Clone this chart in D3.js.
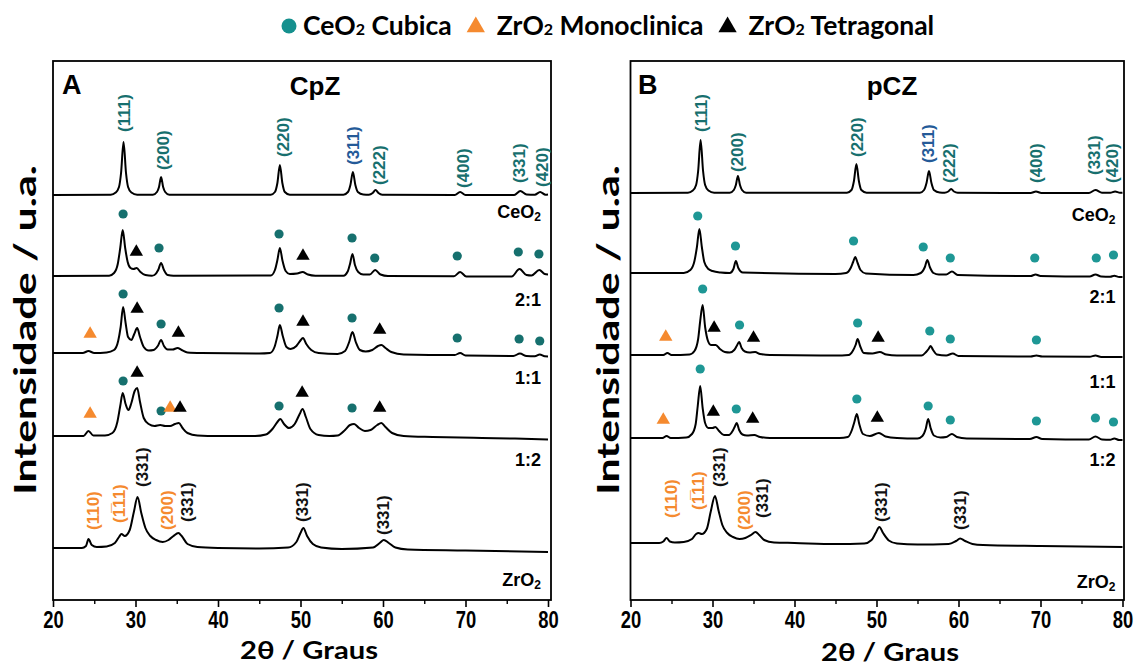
<!DOCTYPE html>
<html>
<head>
<meta charset="utf-8">
<script src="https://cdn.jsdelivr.net/npm/d3@7"></script>
<style>
  body { margin: 0; background: #fff; }
  svg { display: block; }
</style>
</head>
<body>
<svg id="chart" width="1137" height="667"></svg>
<script>
// ---------- data: XRD patterns, 2θ (degrees) vs. intensity (a.u.) ----------
const majorTicks = [20, 30, 40, 50, 60, 70, 80];
const minorTicks = [25, 35, 45, 55, 65, 75];
const sampleNames = ["CeO2", "2:1", "1:1", "1:2", "ZrO2"];

// vertical stacking offset of each pattern (a.u.)
const offsetsCpZ = [405, 324, 247, 164, 52];
const offsetsPCZ = [407, 327, 245, 162, 57];
// height of each sample name (a.u.)
const nameLevelsCpZ = [388, 300, 222, 140, 20];
const nameLevelsPCZ = [385, 303, 218, 140, 18];

// ---- CpZ series ----
const cpzCeO2 = [[20,0],[27.0,0.3],[27.6,2.5],[28.0,8],[28.25,22],[28.55,53],[28.85,22],[29.1,8],[29.5,2.5],[30.2,0.3],
  [32.1,0.2],[32.6,3],[32.85,8],[33.1,18],[33.35,8],[33.6,3],[34.1,0.2],
  [46.4,0.3],[46.9,3],[47.2,12],[47.5,30],[47.8,12],[48.1,3],[48.7,0.3],
  [55.2,0.3],[55.75,3],[56.05,10],[56.35,23],[56.65,10],[56.95,3],[57.6,0.5],
  [58.3,0.3],[58.75,2],[59.1,5],[59.45,2],[59.9,0.3],[68.7,0],[69.35,3],[70,0],
  [75.9,0],[76.65,4],[77.4,0.5],[78.4,0.3],[79.05,3],[79.7,0.3],[80,0.5]];
const cpz21 = [[20,0],[26.8,0.3],[27.4,3],[27.85,12],[28.15,28],[28.45,46],[28.75,28],[29.05,14],[29.4,8],[29.75,7],[30.15,8],[30.6,4],[31.2,1],[32,0.3],
  [32.3,1],[32.75,6],[33.1,13],[33.45,6],[33.9,1],[34.6,0.3],
  [46.4,0.5],[46.9,6],[47.2,16],[47.5,28],[47.8,16],[48.2,5],[48.7,2],[49.6,2.5],[50.25,4],[50.9,1.5],[51.8,0.3],
  [55.2,0.3],[55.75,5],[56.0,12],[56.3,22],[56.6,11],[57.0,4],[57.6,1.5],[58.4,1.5],[59.05,6],[59.7,1.5],[60.6,0],
  [68.6,-0.3],[69.35,4],[70.1,-0.5],[75.6,-0.5],[76.55,7],[77.4,1],[78.0,0.5],[78.95,6],[79.6,2],[80,1.5]];
const cpz11 = [[20,0],[23.6,0],[24.3,2],[25,0],[26.5,0.5],[27.4,3],[27.9,12],[28.2,26],[28.5,46],[28.8,30],[29.1,16],[29.5,13],[29.85,19],[30.2,25],[30.55,16],[31.0,6],[31.6,2.5],[32.2,3],[32.7,7],[33.1,13],[33.45,7],[33.9,3.5],[34.5,3.5],[35.1,5],[35.6,3],[36.3,0.5],[38,0],
  [45,-0.5],[46.3,0],[46.85,6],[47.2,17],[47.5,28],[47.85,17],[48.3,6],[48.8,4],[49.5,7],[49.95,12],[50.3,15],[50.7,9],[51.3,3],[52.2,0],
  [54.5,-1],[55.4,2],[55.9,11],[56.3,21],[56.7,11],[57.2,3],[57.9,1.5],[58.7,3],[59.4,7],[59.8,8],[60.3,5],[61.0,1],[62.5,-1.5],
  [68.7,-2],[69.35,0],[70,-2.5],[75.8,-3],[76.6,-0.5],[77.4,-3],[78.4,-3.2],[79.0,-1.5],[79.6,-3.3],[80,-3.5]];
const cpz12 = [[20,0],[23.7,0],[24.3,5],[24.9,0.5],[26.3,0.5],[27.2,3],[27.8,14],[28.15,30],[28.45,43],[28.8,32],[29.15,26],[29.5,33],[29.9,45],[30.2,48],[30.55,34],[31.0,18],[31.6,12],[32.3,10],[33.0,11],[33.6,10],[34.2,10],[34.8,12],[35.25,13],[35.7,8],[36.3,3],[37.5,0.5],[40,0],
  [44.5,0],[45.8,1.5],[46.6,7],[47.2,14],[47.55,17],[48.0,12],[48.6,8],[49.3,12],[49.9,22],[50.25,27],[50.65,19],[51.2,7],[52.2,1],[53.5,0],
  [54.5,0.5],[55.4,6],[56.0,11],[56.5,12],[57.1,8],[57.8,5],[58.5,6],[59.3,11],[59.8,13],[60.3,9],[61.1,3],[62.5,0],[66,-1],[72,-2],[76,-2.5],[80,-3.5]];
const cpzZrO2 = [[20,0],[23.5,0],[24.0,2],[24.3,9],[24.7,3],[25.3,1],[26.5,1.5],[27.5,5],[28.0,11],[28.3,14],[28.7,12],[29.3,18],[29.8,36],[30.25,51],[30.7,35],[31.2,20],[31.8,12],[32.5,8],[33.3,6],[34.0,8],[34.6,12],[35.2,15],[35.6,12],[36.3,4],[37.5,1],[40,0],
  [45,-0.5],[48.5,0.5],[49.5,6],[50.0,15],[50.35,20],[50.8,12],[51.5,4],[52.5,0.5],[55,-1],[58.8,0.5],[59.6,5],[60.1,8],[60.7,5],[61.5,0.5],[63,-1.5],[70,-2.5],[80,-4]];

// ---- pCZ series ----
const pczCeO2 = [[20,0],[27.0,0.3],[27.6,2.5],[28.0,8],[28.25,22],[28.55,53],[28.85,22],[29.1,8],[29.5,2.5],[30.2,0.3],
  [32.1,0.2],[32.6,3],[32.85,8],[33.1,17],[33.35,8],[33.6,3],[34.1,0.2],
  [46.4,0.3],[46.95,3],[47.25,12],[47.55,29],[47.85,12],[48.15,3],[48.8,0.3],
  [55.3,0.3],[55.8,3],[56.1,10],[56.4,22],[56.7,10],[57.0,3],[57.7,0.5],
  [58.3,0.3],[58.75,1.5],[59.1,4],[59.45,1.5],[59.9,0.3],[68.8,0],[69.45,1.5],[70.1,0],
  [75.9,0],[76.7,3],[77.5,0.3],[78.5,0.2],[79.1,1.5],[79.7,0.2],[80,0.3]];
const pcz21 = [[20,0],[26.5,0],[27.3,3],[27.8,12],[28.1,26],[28.4,44],[28.7,26],[29.0,11],[29.5,4],[30.0,2],[31,0.5],
  [32.1,0],[32.55,4],[32.85,12],[33.15,5],[33.7,0.5],
  [45,-1],[46.3,0],[46.85,5],[47.15,11],[47.4,16],[47.7,10],[48.05,3],[48.7,-0.5],
  [54.5,-2],[55.4,0],[55.9,6],[56.2,13],[56.5,6],[56.95,0],[57.6,-1.5],
  [58.5,-1.5],[59.2,1.5],[59.9,-2],[68.8,-3],[69.4,-1.5],[70,-3],
  [76,-3.5],[76.7,-1.5],[77.4,-3.5],[78.5,-3.8],[79.0,-2.8],[79.6,-4],[80,-4]];
const pcz11 = [[20,0],[24.0,0],[24.5,2],[25.0,0],[27.2,0.5],[27.8,4],[28.25,16],[28.5,34],[28.8,50],[29.1,28],[29.45,14],[29.8,10],[30.4,10],[30.9,6],[31.5,3],[32.1,2.5],[32.65,5],[32.95,9],[33.25,13],[33.55,7],[33.95,3.5],[34.5,2.5],[35.2,3],[35.8,1],[37,0],
  [45,-0.5],[46.6,0],[47.1,4],[47.45,10],[47.7,16],[48.0,9],[48.45,2],[49.5,1.5],[50.4,3],[51.2,0.5],[52.5,-0.5],
  [55.5,-0.5],[56.05,3],[56.35,6],[56.6,9],[56.9,5],[57.35,0.5],[58.5,-0.5],[59.3,1.5],[60,-1],
  [68.8,-1.5],[69.5,-0.5],[70.2,-1.5],[76,-1.8],[76.7,-0.5],[77.4,-2],[80,-2]];
const pcz12 = [[20,0],[23.9,0],[24.4,2],[24.9,0],[26.8,0.5],[27.5,4],[27.95,14],[28.2,32],[28.5,52],[28.8,30],[29.1,15],[29.5,10],[30.0,10],[30.35,11],[30.8,7],[31.4,3],[32.0,3],[32.45,7],[32.7,11],[32.95,15],[33.25,8],[33.65,3.5],[34.2,2.5],[35.1,3],[35.8,1],[37,0],
  [45.5,0],[46.5,1],[47.0,8],[47.3,16],[47.6,24],[47.9,14],[48.35,4],[49.2,2],[50.3,5],[51.1,1.5],[52.5,0],
  [55,-0.5],[55.6,2],[56.0,9],[56.3,19],[56.6,10],[57.0,2.5],[57.8,0.5],[58.5,1],[59.2,4],[59.8,1],[61,-0.5],
  [68.7,-1],[69.5,1],[70.2,-1],[75.9,-1.5],[76.7,1.5],[77.5,-1.5],[78.5,-1.8],[79.0,-0.5],[79.6,-2],[80,-2]];
const pczZrO2 = [[20,0],[23.5,0],[24.0,1.5],[24.4,5],[24.8,1.5],[25.4,0.5],[26.5,1],[27.5,4],[28.0,9],[28.3,10],[28.7,9],[29.3,14],[29.8,32],[30.3,47],[30.75,32],[31.2,18],[31.8,10],[32.5,6],[33.3,4],[34.0,5],[34.7,8],[35.25,11],[35.7,8],[36.3,3],[37.5,0.5],[40,0],
  [45,-1],[48.5,-0.5],[49.4,3],[49.9,10],[50.35,16],[50.8,10],[51.5,2.5],[52.5,-0.5],[55,-1.5],[58.8,-1],[59.7,2],[60.2,4.5],[60.8,2],[61.7,-1],[63,-2],[70,-3],[80,-4]];

// phase markers: [phase, 2θ, level a.u.]  c = CeO2 cubic, m = ZrO2 monoclinic, t = ZrO2 tetragonal
const markersCpZ = [
  ['c',28.5,386],['t',30.1,349],['c',32.85,352],['c',47.4,366],['t',50.3,345],['c',56.25,362],['c',59.0,342],['c',69.0,344],['c',76.4,348],['c',78.9,346],
  ['m',24.5,267],['c',28.5,306],['t',30.2,292],['c',33.1,276],['t',35.2,268],['c',47.4,292],['t',50.3,279],['c',56.25,282],['t',59.6,271],['c',69.0,262],['c',76.5,261],['c',79.0,259],
  ['m',24.5,187],['c',28.5,219],['t',30.2,228],['c',33.1,189],['m',34.2,193],['t',35.4,193],['c',47.4,194],['t',50.2,208],['c',56.25,192],['t',59.6,193]];
const markersPCZ = [
  ['c',28.2,384],['c',32.8,354],['c',47.2,359],['c',55.7,353],['c',59.0,342],['c',69.3,342],['c',76.8,342],['c',78.9,345],
  ['m',24.3,264],['c',28.8,311],['t',30.2,273],['c',33.3,275],['t',35.0,263],['c',47.7,277],['t',50.2,263],['c',56.5,269],['c',59.0,261],['c',69.5,260],
  ['m',24.0,181],['c',28.5,231],['t',30.1,189],['c',32.9,191],['t',34.9,182],['c',47.6,201],['t',50.1,183],['c',56.3,194],['c',59.0,180],['c',69.5,179],['c',76.7,182],['c',78.9,178]];

// Miller index labels: [text, colour key, 2θ, lower end level a.u.]
const hklCpZ = [
  ['(111)','c',28.7,468],['(200)','c',33.45,430],['(220)','c',47.9,443],['(311)','b',56.4,435],['(222)','c',59.6,415],['(400)','c',69.7,412],['(331)','c',76.6,417],['(420)','c',79.3,413],
  ['(110)','m',24.85,70],['(1\u030511)','m',28.0,77],['(331)','t',30.8,113],['(200)','m',33.9,70],['(331)','t',36.25,78],['(331)','t',50.3,78],['(331)','t',60.0,65]];
const hklPCZ = [
  ['(111)','c',28.66,468],['(200)','c',33.05,428],['(220)','c',47.7,443],['(311)','b',56.35,437],['(222)','c',58.9,417],['(400)','c',69.5,417],['(331)','c',76.6,425],['(420)','c',78.8,417],
  ['(110)','m',25.0,82],['(1\u030511)','m',28.3,90],['(331)','t',30.85,113],['(200)','m',33.9,70],['(331)','t',36.1,82],['(331)','t',50.6,78],['(331)','t',60.2,70]];

// ---------- drawing ----------
const svg = d3.select('#chart');
const labelColor = { c: '#176f6e', b: '#245a98', m: '#f58a2f', t: '#111' };
const markerColor = { c: '#16706e', m: '#f58a2f', t: '#000' };
const markerColorB = { c: '#1e9795', m: '#f58a2f', t: '#000' };
const boldSans = "'Liberation Sans', Arial, sans-serif";
const calibriLike = "Lato, 'Open Sans', sans-serif";

const panels = [
  { letter: 'A', title: 'CpZ', x0: 53, x1: 548, right: 551, titleX: 315, letterX: 62,
    series: [cpzCeO2, cpz21, cpz11, cpz12, cpzZrO2], offsets: offsetsCpZ, names: nameLevelsCpZ,
    markers: markersCpZ, hkl: hklCpZ, mColor: markerColor, yLabelX: 24, xTitleX: 309, xTitleY: 659 },
  { letter: 'B', title: 'pCZ', x0: 630.5, x1: 1122.5, right: 1124, titleX: 892, letterX: 638,
    series: [pczCeO2, pcz21, pcz11, pcz12, pczZrO2], offsets: offsetsPCZ, names: nameLevelsPCZ,
    markers: markersPCZ, hkl: hklPCZ, mColor: markerColorB, yLabelX: 607, xTitleX: 890, xTitleY: 661 }
];

const plotTop = 61, plotBottom = 600;

function chemText(sel, name, sub) {
  // writes e.g. CeO2 with a subscript 2
  const m = name.match(/^(.*O)(2)$/);
  if (m) {
    sel.append('tspan').text(m[1]);
    sel.append('tspan').attr('dy', sub.dy).attr('font-size', sub.size).text(m[2]);
  } else {
    sel.text(name);
  }
}

panels.forEach(p => {
  const x = d3.scaleLinear().domain([20, 80]).range([p.x0, p.x1]);
  const y = d3.scaleLinear().domain([0, 540]).range([plotBottom, plotBottom - 540]);
  const g = svg.append('g');

  // frame
  g.append('rect')
    .attr('x', x(20)).attr('y', plotTop)
    .attr('width', p.right - x(20)).attr('height', plotBottom - plotTop)
    .attr('fill', 'none').attr('stroke', '#000').attr('stroke-width', 1.8);

  // bottom axis: major + minor ticks
  const axMajor = g.append('g').attr('transform', `translate(0,${plotBottom})`)
    .call(d3.axisBottom(x).tickValues(majorTicks).tickSize(7).tickPadding(5).tickFormat(d3.format('d')));
  axMajor.select('.domain').remove();
  axMajor.selectAll('line').attr('stroke-width', 1.6);
  axMajor.selectAll('text')
    .attr('font-family', boldSans)
    .attr('font-weight', 'bold').attr('font-size', 23).attr('fill', '#000')
    .attr('transform', 'scale(0.8,1)');
  const axMinor = g.append('g').attr('transform', `translate(0,${plotBottom})`)
    .call(d3.axisBottom(x).tickValues(minorTicks).tickSize(4).tickFormat(''));
  axMinor.select('.domain').remove();
  axMinor.selectAll('line').attr('stroke-width', 1.4);

  // patterns
  p.series.forEach((s, i) => {
    const line = d3.line()
      .x(d => x(d[0]))
      .y(d => y(p.offsets[i] + d[1]))
      .curve(d3.curveMonotoneX);
    g.append('path').datum(s).attr('d', line)
      .attr('fill', 'none').attr('stroke', '#000').attr('stroke-width', 2)
      .attr('stroke-linejoin', 'round');
  });

  // sample names
  sampleNames.forEach((n, i) => {
    const t = g.append('text')
      .attr('x', p.x1 - 7).attr('y', y(p.names[i]))
      .attr('text-anchor', 'end').attr('dominant-baseline', 'central')
      .attr('font-family', boldSans).attr('font-weight', 'bold').attr('font-size', 18);
    chemText(t, n, { dy: 5, size: 12 });
  });

  // phase markers
  p.markers.forEach(([ph, tt, lv]) => {
    const cx = x(tt), cy = y(lv);
    if (ph === 'c') {
      g.append('circle').attr('cx', cx).attr('cy', cy).attr('r', 4.6).attr('fill', p.mColor.c);
    } else {
      g.append('path')
        .attr('d', d3.symbol().type(d3.symbolTriangle).size(78)())
        .attr('transform', `translate(${cx},${cy + 1})`)
        .attr('fill', p.mColor[ph]);
    }
  });

  // Miller indices, rotated
  p.hkl.forEach(([txt, col, tt, lv]) => {
    g.append('text')
      .attr('transform', `translate(${x(tt)},${y(lv)}) rotate(-90)`)
      .attr('dominant-baseline', 'central')
      .attr('font-family', boldSans).attr('font-weight', 'bold').attr('font-size', 17)
      .attr('fill', labelColor[col])
      .text(txt);
  });

  // panel letter and title
  g.append('text').attr('x', p.letterX).attr('y', 94)
    .attr('font-family', boldSans).attr('font-weight', 'bold').attr('font-size', 27).text(p.letter);
  g.append('text').attr('x', p.titleX).attr('y', 95).attr('text-anchor', 'middle')
    .attr('font-family', boldSans).attr('font-weight', 'bold').attr('font-size', 26).text(p.title);

  // axis titles
  g.append('text')
    .attr('x', p.xTitleX).attr('y', p.xTitleY).attr('text-anchor', 'middle')
    .attr('font-family', calibriLike).attr('font-weight', 'bold').attr('font-size', 25)
    .attr('textLength', 138).attr('lengthAdjust', 'spacingAndGlyphs')
    .text('2\u03B8 / Graus');
  g.append('text')
    .attr('transform', `translate(${p.yLabelX},330) rotate(-90)`)
    .attr('text-anchor', 'middle').attr('dominant-baseline', 'central')
    .attr('font-family', calibriLike).attr('font-weight', 'bold').attr('font-size', 31)
    .attr('textLength', 330).attr('lengthAdjust', 'spacingAndGlyphs')
    .text('Intensidade / u.a.');
});

// ---------- legend ----------
const legendItems = [
  { phase: 'c', label: 'CeO2', rest: ' Cubica' },
  { phase: 'm', label: 'ZrO2', rest: ' Monoclinica' },
  { phase: 't', label: 'ZrO2', rest: ' Tetragonal' }
];
const legend = svg.append('g');
const ly = 26;
let lx = 303;
legendItems.forEach((it, i) => {
  // symbol sits just before its text
  if (it.phase === 'c') {
    legend.append('circle').attr('cx', lx - 14).attr('cy', ly).attr('r', 7.5).attr('fill', '#15908e');
  } else {
    legend.append('path')
      .attr('d', d3.symbol().type(d3.symbolTriangle).size(145)())
      .attr('transform', `translate(${lx - 21},${ly + 1})`)
      .attr('fill', markerColor[it.phase]);
  }
  const t = legend.append('text').attr('x', lx).attr('y', ly + 9)
    .attr('font-family', calibriLike).attr('font-weight', 'bold').attr('font-size', 26.5);
  chemText(t, it.label, { dy: 0, size: 16 });
  t.append('tspan').text(it.rest);
  lx += t.node().getComputedTextLength() + 45;
});
</script>
</body>
</html>
